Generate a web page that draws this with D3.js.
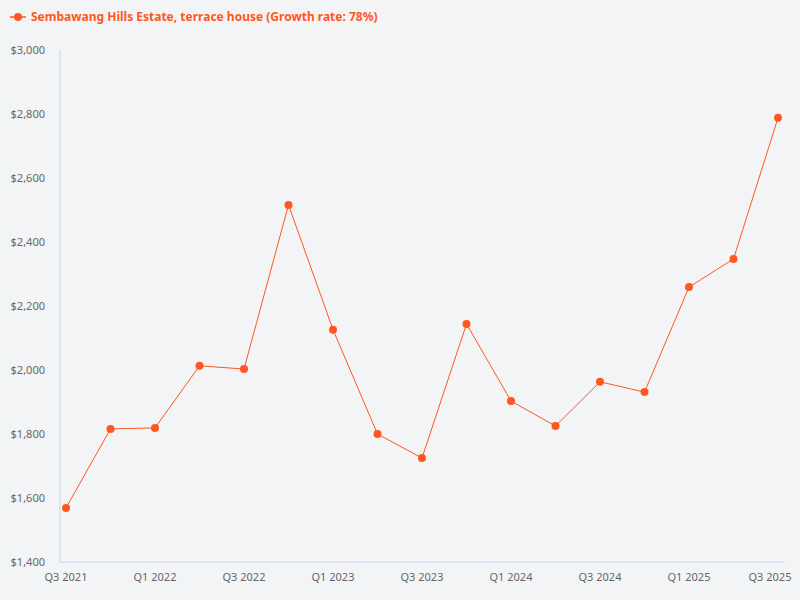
<!DOCTYPE html>
<html><head><meta charset="utf-8">
<script src="https://cdn.jsdelivr.net/npm/d3@7"></script>
<style>body{margin:0;background:#f3f4f6;font-family:"Noto Sans",sans-serif;}</style>
</head><body>
<script>
var quarters = ["Q3 2021","Q4 2021","Q1 2022","Q2 2022","Q3 2022","Q4 2022","Q1 2023","Q2 2023","Q3 2023","Q4 2023","Q1 2024","Q2 2024","Q3 2024","Q4 2024","Q1 2025","Q2 2025","Q3 2025"];
var prices = [1569,1816,1819,2013,2003,2516,2126,1800,1725,2144,1903,1825,1963,1931,2259,2347,2788];
var yTicks = [1400,1600,1800,2000,2200,2400,2600,2800,3000];
var color = "#ff5722";
var w = 800, h = 600;

var svg = d3.select("body").append("svg").attr("width", w).attr("height", h);
svg.append("rect").attr("width", w).attr("height", h).attr("fill", "#f3f4f6");

var x = d3.scalePoint().domain(quarters).range([66, 778]);
var y = d3.scaleLinear().domain([1400, 3000]).range([562, 50]);

// axes
svg.append("line").attr("x1", 60).attr("x2", 60).attr("y1", 50).attr("y2", 562)
  .attr("stroke", "#ccd6eb");
svg.append("line").attr("x1", 60).attr("x2", 785).attr("y1", 562).attr("y2", 562)
  .attr("stroke", "#ccd6eb");

svg.selectAll(".yl").data(yTicks).enter().append("text")
  .attr("x", 45).attr("y", function (d) { return y(d) + 4; })
  .attr("text-anchor", "end").attr("font-size", 11).attr("fill", "#666")
  .text(function (d) { return "$" + d3.format(",")(d); });

svg.selectAll(".xl").data(quarters.filter(function (d, i) { return i % 2 == 0; })).enter().append("text")
  .attr("x", function (d, i) { return i == 8 ? 770 : x(d); })
  .attr("y", 581).attr("text-anchor", "middle").attr("font-size", 11).attr("fill", "#666")
  .text(function (d) { return d; });

var line = d3.line().x(function (d, i) { return x(quarters[i]); }).y(function (d) { return y(d); });
svg.append("path").datum(prices).attr("d", line)
  .attr("fill", "none").attr("stroke", color).attr("stroke-width", 1);

svg.selectAll(".pt").data(prices).enter().append("circle")
  .attr("cx", function (d, i) { return x(quarters[i]); })
  .attr("cy", function (d) { return y(d); })
  .attr("r", 4).attr("fill", color);

// legend
svg.append("line").attr("x1", 10).attr("x2", 26).attr("y1", 17).attr("y2", 17).attr("stroke", color).attr("stroke-width", 1.5);
svg.append("circle").attr("cx", 18).attr("cy", 17).attr("r", 4).attr("fill", color);
svg.append("text").attr("x", 31).attr("y", 21).attr("font-size", 12).attr("font-weight", "bold")
  .attr("fill", color).text("Sembawang Hills Estate, terrace house (Growth rate: 78%)");
</script>
</body></html>
